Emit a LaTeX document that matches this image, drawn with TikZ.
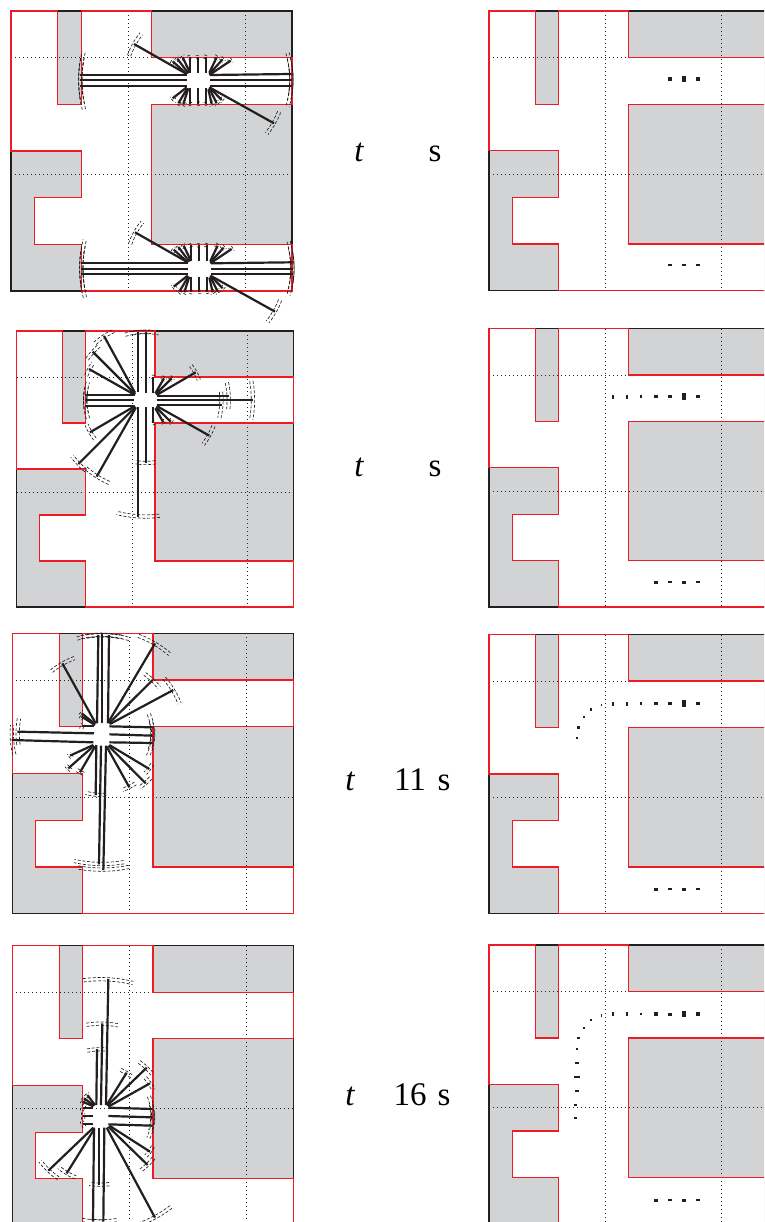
\documentclass[tikz,border=0pt]{standalone}
\usepackage{fontspec}
\setmainfont{Liberation Serif}
\definecolor{wallgray}{HTML}{D1D3D4}
\definecolor{wallred}{HTML}{ED1C24}
\definecolor{inkblack}{HTML}{231F20}
\tikzset{
  rayline/.style={inkblack,line width=2.2pt,line cap=butt},
  wave/.style={inkblack,line width=0.65pt,dash pattern=on 3pt off 1.8pt},
  redwall/.style={wallred,line width=1.3pt,line join=miter},
  gridline/.style={inkblack,line width=0.8pt,dash pattern=on 1pt off 3pt},
  frameline/.style={inkblack,line width=1.3pt},
  lbl/.style={inner sep=0pt,anchor=base,font=\fontsize{33}{36}\selectfont}
}
\newcommand\roomplan[4]{%
  \pgfmathsetmacro\pux{#3/12}\pgfmathsetmacro\puy{#4/12}
  \begin{scope}[shift={(#1,#2)},x=\pux pt,y=-\puy pt]
    \fill[wallgray] (0,0) rectangle (12,12);
    \fill[white] (0,6)--(0,0)--(2,0)--(2,4)--(3,4)--(3,0)--(6,0)--(6,2)--(12,2)--(12,4)--(6,4)--(6,10)--(12,10)--(12,12)--(3,12)--(3,10)--(1,10)--(1,8)--(3,8)--(3,6)--cycle;
    \draw[gridline] (0,2)--(6,2) (0,7)--(12,7) (5,0)--(5,12) (10,0)--(10,12);
    \draw[frameline] (0,0) rectangle (12,12);
    \draw[redwall] (0,6)--(0,0)--(2,0)--(2,4)--(3,4)--(3,0)--(6,0)--(6,2)--(12,2)--(12,4)--(6,4)--(6,10)--(12,10)--(12,12)--(3,12)--(3,10)--(1,10)--(1,8)--(3,8)--(3,6)--cycle;
  \end{scope}}
% ray from (sx,sy) to (ex,ey) with two dashed wave arcs around the source \wcx,\wcy
\newcommand\wray[5]{%
  \pgfmathsetmacro\wrr{veclen(#3-\wcx,#4-\wcy)}%
  \pgfmathsetmacro\waa{atan2(#4-\wcy,#3-\wcx)}%
  \pgfmathsetmacro\wdd{#5/\wrr*57.3}%
  \pgfmathsetmacro\waone{\waa-\wdd}%
  \pgfmathsetmacro\watwo{\waa+\wdd}%
  \pgfmathsetmacro\wro{\wrr+4}%
  \pgfmathsetmacro\wri{\wrr-6}%
  \draw[rayline] (#1,#2)--(#3,#4);
  \draw[wave] plot[domain=\waone:\watwo,samples=7] ({\wcx+\wro*cos(\x)},{\wcy+\wro*sin(\x)});
  \draw[wave] plot[domain=\waone:\watwo,samples=7] ({\wcx+\wri*cos(\x)},{\wcy+\wri*sin(\x)});
}
\newcommand\firstcluster{%
  \def\wcx{595}\def\wcy{240}
  \wray{560}{225}{240}{225}{72}\wray{560}{241}{240}{241}{72}\wray{560}{257}{240}{257}{72}
  \wray{630}{225}{875}{222}{65}\wray{630}{241}{875}{241}{65}\wray{630}{257}{875}{257}{65}
  \wray{569}{218}{569}{170}{6}\wray{594}{218}{594}{170}{6}\wray{617}{218}{617}{170}{6}
  \wray{569}{265}{569}{312}{6}\wray{594}{265}{594}{312}{6}\wray{617}{265}{617}{312}{6}
  \wray{560}{222}{402}{132}{38}
  \wray{558}{220}{518}{184}{8}\wray{565}{220}{532}{176}{8}\wray{570}{218}{548}{172}{8}
  \wray{628}{218}{650}{172}{8}\wray{628}{222}{668}{178}{8}\wray{628}{225}{692}{182}{8}
  \wray{630}{263}{822}{370}{38}
  \wray{560}{262}{518}{295}{8}\wray{562}{265}{535}{310}{8}\wray{565}{265}{550}{312}{8}
  \wray{628}{262}{665}{300}{8}\wray{628}{265}{650}{310}{8}\wray{625}{268}{635}{312}{8}
}
\newcommand\dotm[4]{\fill[inkblack] (#1-#3/2,#2-#4/2) rectangle (#1+#3/2,#2+#4/2);}
\newcommand\basefour[1]{\dotm{656}{#1}{3.5}{3}\dotm{670}{#1}{4.6}{2}\dotm{684}{#1}{4.2}{3}\dotm{698}{#1}{4.4}{1.8}}
\newcommand\upperseven[1]{\dotm{613}{#1}{2}{4}\dotm{627}{#1}{1.8}{4}\dotm{641}{#1}{1.5}{2.8}\dotm{656}{#1}{3.5}{3.5}\dotm{670}{#1}{4.6}{3}\dotm{684}{#1}{4.6}{6.5}\dotm{698}{#1}{4.6}{3.4}}
\begin{document}
\begin{tikzpicture}[x=1pt,y=-1pt]
\useasboundingbox (0,0) rectangle (764,1222);
\clip (0,0) rectangle (764,1222);
\roomplan{11}{11}{281}{280}
\roomplan{16.5}{331}{277}{276}
\roomplan{12.3}{633.3}{281.4}{280.5}
\roomplan{12.3}{945.5}{281.4}{280}
\roomplan{489}{11}{279}{279.5}
\roomplan{489}{328.5}{279}{278.5}
\roomplan{489}{634.5}{279}{279}
\roomplan{489}{945}{279}{279}
% panel 1
\begin{scope}[x=0.33333pt,y=-0.33333pt]
  \firstcluster
\end{scope}
\begin{scope}[shift={(1,188.3)},x=0.33333pt,y=-0.33333pt]
  \firstcluster
\end{scope}
% panel 2
\begin{scope}[shift={(0,320)},x=0.33333pt,y=-0.33333pt]
  \def\wcx{437}\def\wcy{240}
  \wray{402}{225}{255}{225}{40}\wray{402}{241}{255}{241}{40}\wray{402}{257}{255}{257}{40}
  \wray{470}{227}{687}{227}{40}\wray{470}{241}{760}{241}{58}\wray{470}{255}{665}{255}{40}
  \wray{414}{215}{414}{35}{40}\wray{437}{218}{437}{35}{40}\wray{460}{218}{460}{170}{6}
  \wray{414}{262}{414}{590}{65}\wray{437}{262}{437}{430}{30}\wray{460}{262}{460}{310}{6}
  \wray{405}{218}{312}{48}{35}\wray{405}{222}{278}{95}{28}\wray{405}{225}{267}{147}{22}
  \wray{405}{258}{270}{337}{25}\wray{405}{262}{235}{432}{30}\wray{408}{262}{290}{470}{42}
  \wray{470}{225}{587}{157}{25}\wray{468}{222}{515}{175}{8}\wray{466}{220}{492}{175}{8}
  \wray{470}{258}{628}{347}{32}\wray{468}{262}{512}{305}{8}\wray{466}{265}{490}{307}{8}
\end{scope}
% panel 3
\begin{scope}[shift={(0,625)},x=0.33333pt,y=-0.33333pt]
  \def\wcx{306}\def\wcy{325}
  \wray{282}{325}{52}{320}{40}\wray{280}{352}{35}{345}{45}\wray{282}{304}{245}{304}{8}
  \wray{328}{304}{458}{307}{42}\wray{328}{328}{458}{332}{42}\wray{328}{352}{458}{354}{42}
  \wray{291}{295}{295}{30}{65}\wray{307}{295}{307}{28}{65}\wray{324}{295}{327}{30}{65}
  \wray{289}{360}{287}{510}{30}\wray{303}{362}{297}{718}{75}\wray{318}{362}{310}{735}{78}
  \wray{287}{295}{187}{115}{40}\wray{285}{297}{245}{265}{8}\wray{285}{300}{245}{275}{8}
  \wray{325}{292}{465}{55}{55}\wray{327}{295}{458}{165}{30}\wray{330}{297}{520}{195}{45}
  \wray{280}{360}{210}{392}{8}\wray{282}{362}{205}{430}{10}\wray{285}{365}{240}{442}{12}
  \wray{328}{360}{448}{432}{18}\wray{325}{362}{437}{475}{22}\wray{320}{365}{388}{487}{22}
\end{scope}
% panel 4
\begin{scope}[shift={(0,935)},x=0.33333pt,y=-0.33333pt]
  \def\wcx{302}\def\wcy{543}
  \wray{280}{518}{248}{518}{10}\wray{280}{543}{248}{543}{10}\wray{280}{568}{248}{568}{10}
  \wray{325}{518}{458}{522}{40}\wray{325}{543}{458}{547}{40}\wray{325}{568}{458}{572}{40}
  \wray{289}{510}{291}{342}{30}\wray{303}{510}{307}{265}{48}\wray{318}{510}{325}{132}{75}
  \wray{282}{578}{279}{860}{35}\wray{298}{578}{298}{750}{30}\wray{313}{578}{310}{860}{40}
  \wray{285}{510}{262}{480}{8}\wray{283}{512}{252}{490}{8}\wray{280}{514}{248}{500}{8}
  \wray{320}{510}{380}{413}{20}\wray{322}{512}{440}{398}{28}\wray{325}{515}{450}{445}{22}
  \wray{280}{578}{145}{707}{38}\wray{283}{582}{200}{715}{30}
  \wray{328}{572}{450}{650}{18}\wray{325}{575}{443}{690}{28}\wray{320}{578}{465}{848}{58}
\end{scope}
% right column: sampled front dots
\dotm{670}{79}{3.8}{3.2}\dotm{684}{79}{4.6}{6.5}\dotm{698}{79}{4.2}{3.4}
\dotm{670}{265}{3.8}{1.8}\dotm{684}{265}{3.6}{2.4}\dotm{698}{265}{3.8}{1.6}
\upperseven{396.7}\basefour{582}
\upperseven{703.5}\basefour{889.3}
\dotm{601.7}{705.3}{1.5}{2.2}\dotm{591}{709.3}{1.8}{2.6}\dotm{583.7}{717}{1.6}{1.6}\dotm{578.7}{727.7}{2.6}{3}\dotm{577}{738}{2.2}{2.2}
\upperseven{1014}\basefour{1200}
\dotm{601.7}{1015.5}{1.5}{2.8}\dotm{590.7}{1020}{1.8}{2.8}\dotm{583.7}{1027.7}{1.6}{1.6}\dotm{578.7}{1038}{2.6}{2.8}\dotm{577}{1049}{2.2}{2.2}
\dotm{577}{1062.7}{3.8}{1.6}\dotm{576.7}{1076.7}{5.6}{2}\dotm{577}{1091}{3.8}{2}\dotm{575.3}{1105}{2.8}{1.6}\dotm{575.3}{1118}{3.2}{1.8}
% labels
\node[lbl] (tA) at (359,162) {\itshape t};
\node[lbl] (sA) at (435,162) {s};
\node[lbl] (tB) at (359,476) {\itshape t};
\node[lbl] (sB) at (435,476) {s};
\node[lbl] (tC) at (350,790) {\itshape t};
\node[lbl] (nC) at (410,790) {11};
\node[lbl] (sC) at (444,790) {s};
\node[lbl] (tD) at (350,1105) {\itshape t};
\node[lbl] (nD) at (410,1105) {16};
\node[lbl] (sD) at (444,1105) {s};
\end{tikzpicture}
\end{document}
